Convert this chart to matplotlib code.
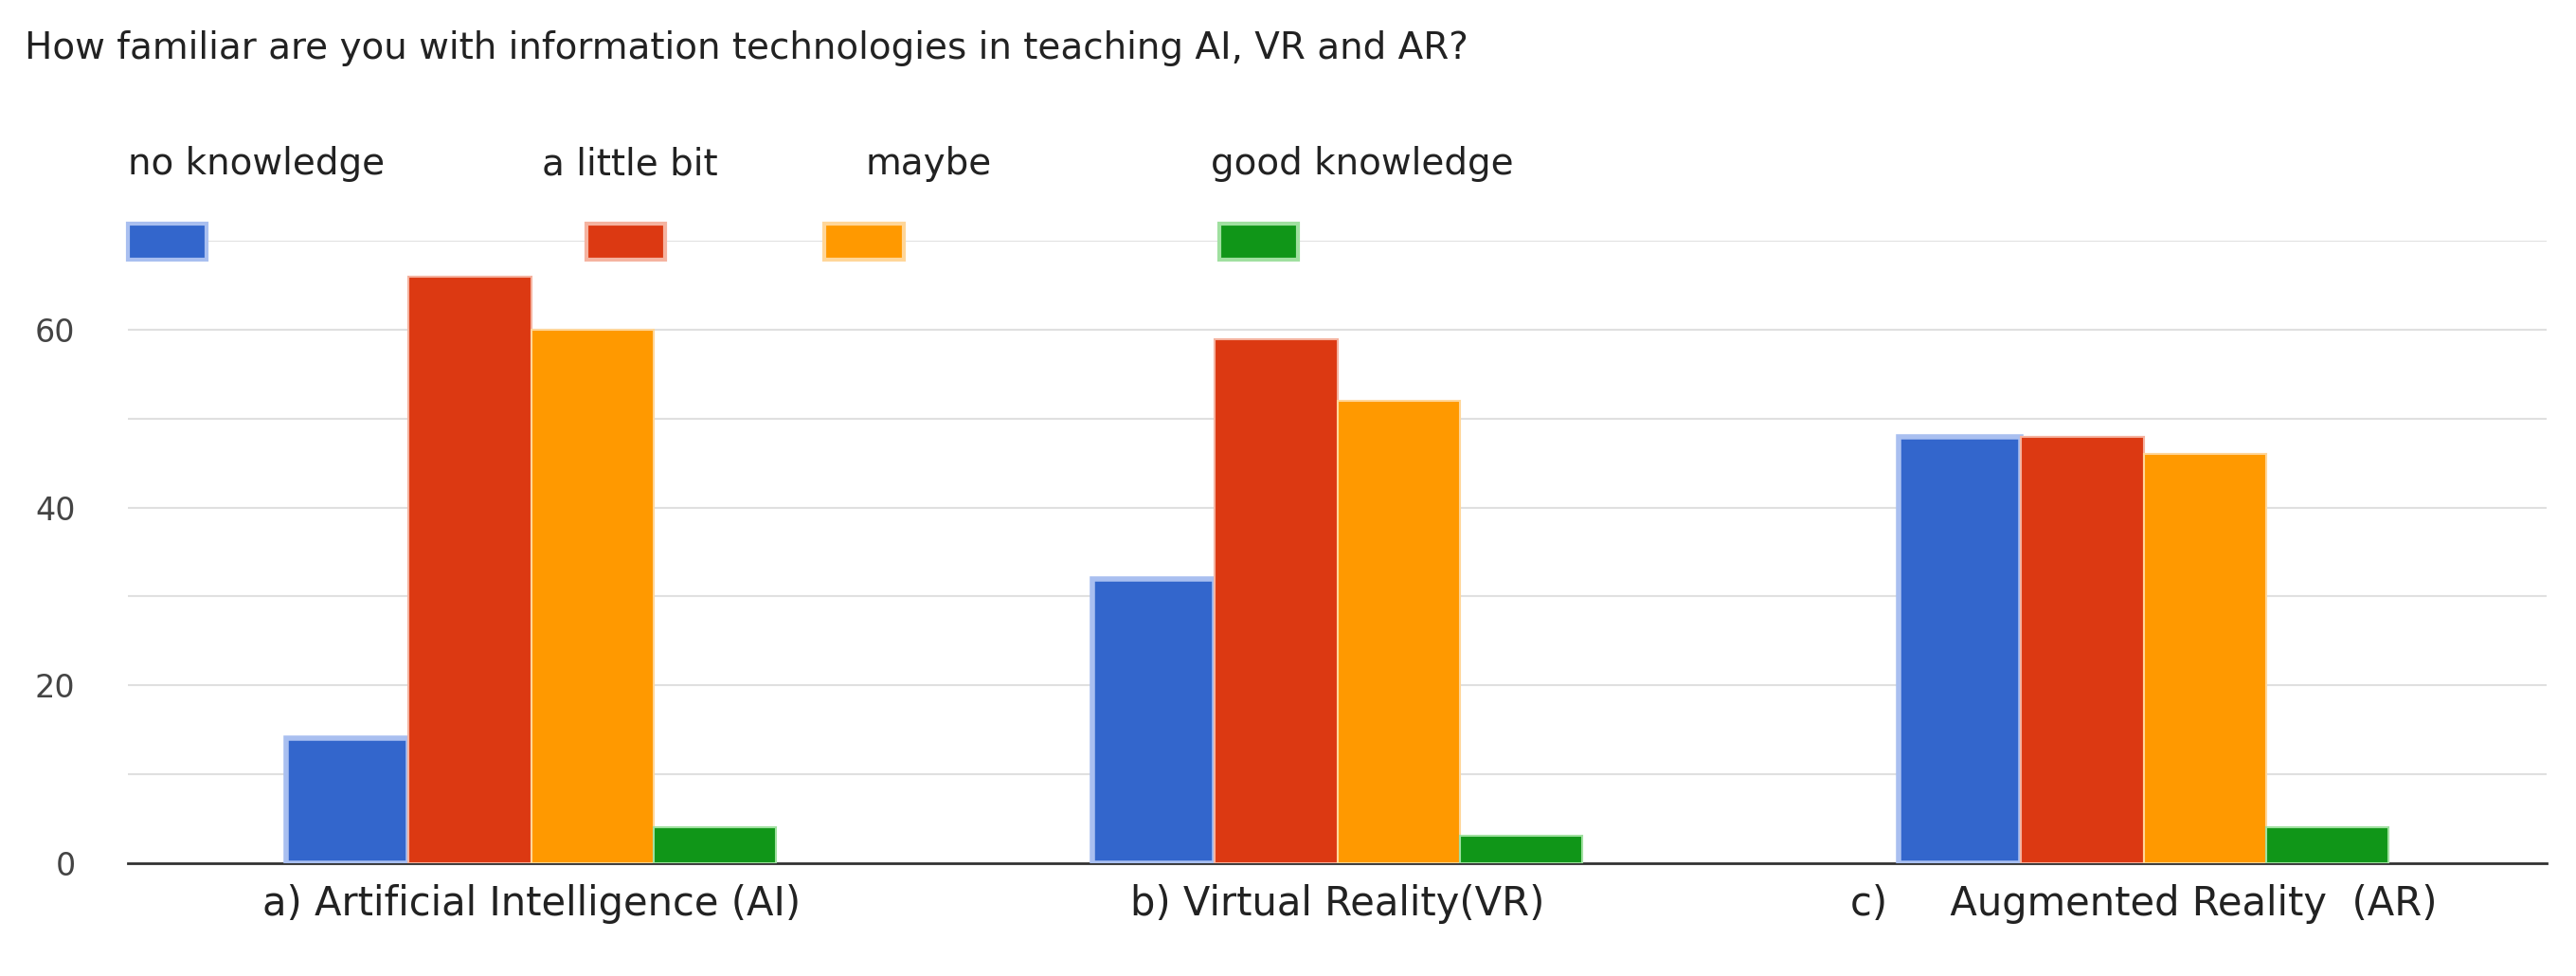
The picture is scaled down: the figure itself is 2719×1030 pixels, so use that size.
import numpy as np
import matplotlib.pyplot as plt
from matplotlib.patches import Rectangle

categories = ["a) Artificial Intelligence (AI)", "b) Virtual Reality(VR)",
              "c)     Augmented Reality  (AR)"]
series = ["no knowledge", "a little bit", "maybe", "good knowledge"]
values = {
    "no knowledge": [14, 32, 48],
    "a little bit": [66, 59, 48],
    "maybe": [60, 52, 46],
    "good knowledge": [4, 3, 4],
}
colors = ["#3366cc", "#dc3912", "#ff9900", "#109618"]
edges = ["#a9bff0", "#f5b3a0", "#ffd699", "#a0e0a0"]

fig = plt.figure(figsize=(27.19, 10.3), dpi=100)
ax = fig.add_axes([0.0497, 0.116, 0.939, 0.637])

x = np.arange(len(categories))
w = 0.152
for i, s in enumerate(series):
    lw = 4 if i == 0 else 1.5
    ax.bar(x + (i - 1.5) * w, values[s], w, color=colors[i],
           edgecolor=edges[i], linewidth=lw, zorder=3)

ax.set_xlim(-0.5, 2.5)
ax.set_ylim(0, 70)
ax.set_yticks([0, 20, 40, 60])
ax.set_yticks([10, 30, 50, 70], minor=True)
ax.grid(axis="y", which="both", color="#e0e0e0", linewidth=1.5, zorder=0)
ax.tick_params(axis="y", which="both", length=0, labelsize=24, colors="#444444", pad=40)
ax.set_xticks(x)
ax.set_xticklabels(categories, fontsize=30, color="#222222")
ax.tick_params(axis="x", length=0, pad=16)
for sp in ["top", "right", "left"]:
    ax.spines[sp].set_visible(False)
ax.spines["bottom"].set_color("#333333")
ax.spines["bottom"].set_linewidth(2)

fig.text(0.0096, 0.95, "How familiar are you with information technologies in teaching AI, VR and AR?",
         fontsize=28, color="#222222", va="center")

# legend: labels above, coloured patches below
label_x = [78, 330, 527, 737]
patch_x = [78, 357, 502, 742]
for i, s in enumerate(series):
    fig.text(label_x[i] / 1568, 1 - 100 / 594, s, fontsize=28, color="#222222", va="center")
    fig.add_artist(Rectangle((patch_x[i] / 1568, 1 - 158 / 594), 48 / 1568, 22 / 594,
                             transform=fig.transFigure, facecolor=colors[i],
                             edgecolor=edges[i], linewidth=3))

fig.savefig("out.png", dpi=100)
